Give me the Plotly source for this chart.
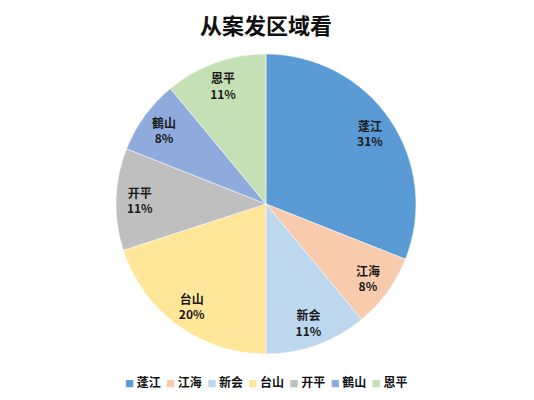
import plotly.graph_objects as go

districts = ["蓬江", "江海", "新会", "台山", "开平", "鶴山", "恩平"]
shares = [31, 8, 11, 20, 11, 8, 11]
colors = ["#5B9BD5", "#F8CBAD", "#BDD7EE", "#FFE699", "#BFBFBF", "#8FAADC", "#C5E0B4"]

# page has 8px body margin, so the figure is nudged up/left to match
pie_dom = dict(x=[0.2022, 0.764], y=[0.135, 0.885])

fig = go.Figure()

# the coloured slices
fig.add_trace(go.Pie(
    labels=districts, values=shares,
    sort=False, direction="clockwise", rotation=0,
    marker=dict(colors=colors, line=dict(color="white", width=0.5)),
    textinfo="none",
    domain=pie_dom,
    showlegend=False,
    hoverinfo="label+percent",
))

# transparent ring on top, only to push the labels out towards the rim
fig.add_trace(go.Pie(
    labels=districts, values=shares,
    sort=False, direction="clockwise", rotation=0,
    hole=0.68,
    marker=dict(colors=["rgba(0,0,0,0)"] * len(shares), line=dict(width=0)),
    texttemplate="<b>%{label}</b><br><b>%{value}%</b>",
    textposition="inside",
    insidetextorientation="horizontal",
    textfont=dict(family="Noto Sans CJK SC", size=12, color="#1a1a1a"),
    domain=pie_dom,
    showlegend=False,
    hoverinfo="skip",
))

legend_txt = "  ".join(
    f"<span style='font-size:9px;color:{c}'>■</span> <b>{d}</b>"
    for d, c in zip(districts, colors)
)

fig.update_layout(
    width=534, height=400,
    margin=dict(l=0, r=0, t=0, b=0),
    paper_bgcolor="white",
    font=dict(family="Noto Sans CJK SC", color="#111111"),
    title=dict(
        text="<b>从案发区域看</b>",
        x=0.483, xanchor="center", y=0.955, yanchor="middle",
        font=dict(size=22, color="#111111"),
    ),
    uniformtext=dict(minsize=12, mode="show"),
    annotations=[dict(
        text=legend_txt, showarrow=False,
        xref="paper", yref="paper", x=0.483, y=0.0675,
        xanchor="center", yanchor="middle",
        font=dict(size=12, color="#111111"),
    )],
)

fig.write_html("out.html")
